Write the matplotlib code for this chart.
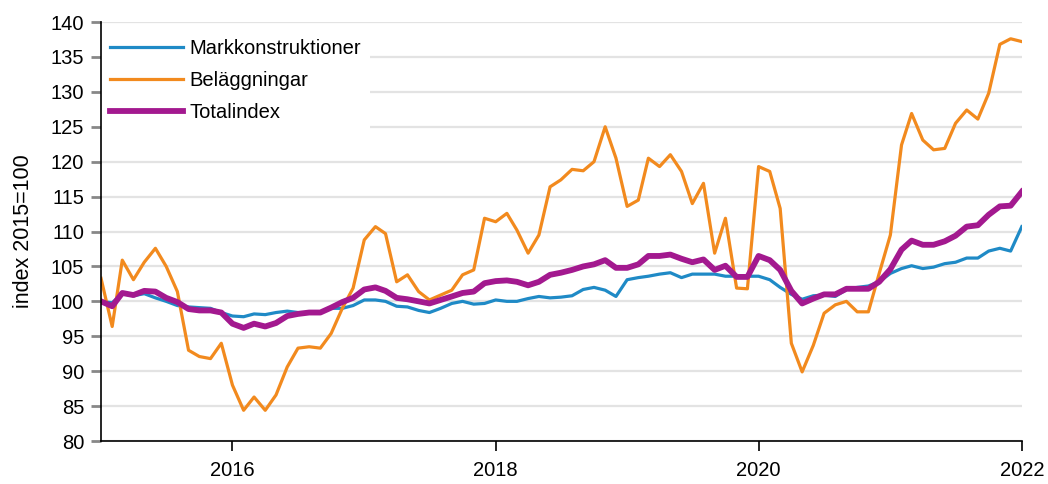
import matplotlib
matplotlib.use("Agg")
import matplotlib.pyplot as plt
import matplotlib.dates as mdates
import pandas as pd

plt.rcParams["font.family"] = ["Liberation Sans", "DejaVu Sans"]

months = pd.date_range("2015-01-01", "2022-01-01", freq="MS")

markkonstruktioner = [
    100.0, 99.8, 101.1, 100.8, 101.1, 100.5, 100.0, 99.4, 99.2, 99.1, 99.0, 98.4,
    97.9, 97.8, 98.2, 98.1, 98.4, 98.6, 98.4, 98.4, 98.4, 99.0, 99.0, 99.4,
    100.2, 100.2, 100.0, 99.3, 99.2, 98.7, 98.4, 99.0, 99.7, 100.0, 99.6, 99.7,
    100.2, 100.0, 100.0, 100.4, 100.7, 100.5, 100.6, 100.8, 101.7, 102.0, 101.6, 100.7,
    103.1, 103.4, 103.6, 103.9, 104.1, 103.4, 103.9, 103.9, 103.9, 103.6, 103.6, 103.6,
    103.6, 103.1, 102.0, 101.0, 100.3, 100.8, 100.9, 100.7, 101.7, 102.0, 102.2, 102.8,
    104.0, 104.7, 105.1, 104.7, 104.9, 105.4, 105.6, 106.2, 106.2, 107.2, 107.6, 107.2,
    110.7,
]

belaggningar = [
    103.3, 96.4, 105.9, 103.1, 105.6, 107.6, 105.0, 101.4, 93.0, 92.1, 91.8, 94.0,
    88.0, 84.4, 86.3, 84.4, 86.6, 90.6, 93.3, 93.5, 93.3, 95.4, 99.0, 101.9,
    108.8, 110.7, 109.7, 102.8, 103.8, 101.4, 100.2, 100.9, 101.6, 103.8, 104.5, 111.9,
    111.4, 112.6, 110.2, 106.9, 109.5, 116.4, 117.4, 118.9, 118.7, 120.0, 125.0, 120.5,
    113.6, 114.5, 120.5, 119.3, 121.0, 118.6, 114.0, 116.9, 106.9, 111.9, 101.9, 101.8,
    119.3, 118.6, 113.3, 94.0, 89.9, 93.7, 98.3, 99.5, 100.0, 98.5, 98.5, 104.0,
    109.5, 122.4, 126.9, 123.1, 121.7, 121.9, 125.5, 127.4, 126.1, 129.8, 136.8, 137.6,
    137.2,
]

totalindex = [
    100.0, 99.3, 101.2, 100.9, 101.5, 101.4, 100.5, 99.9, 98.9, 98.7, 98.7, 98.4,
    96.8, 96.2, 96.8, 96.4, 96.9, 97.9, 98.2, 98.4, 98.4, 99.1, 99.9, 100.5,
    101.7, 102.0, 101.5, 100.5, 100.3, 100.0, 99.7, 100.2, 100.7, 101.2, 101.4, 102.6,
    102.9, 103.0, 102.8, 102.3, 102.8, 103.8, 104.1, 104.5, 105.0, 105.3, 105.9, 104.8,
    104.8, 105.3, 106.5, 106.5, 106.7, 106.1, 105.6, 106.0, 104.5, 105.1, 103.5, 103.5,
    106.5, 105.9, 104.5, 101.5, 99.7, 100.4, 101.0, 101.0, 101.8, 101.8, 101.8, 102.8,
    104.6, 107.4, 108.7, 108.1, 108.1, 108.6, 109.4, 110.7, 110.9, 112.4, 113.6, 113.7,
    115.7,
]

fig = plt.figure(figsize=(10.48, 4.84), dpi=100)
ax = fig.add_axes([0.0964, 0.0888, 0.8786, 0.8657])

ax.plot(months, markkonstruktioner, color="#1f8ac6", lw=2.3, label="Markkonstruktioner")
ax.plot(months, belaggningar, color="#f28a1e", lw=2.3, label="Beläggningar")
ax.plot(months, totalindex, color="#a3198f", lw=4.2, label="Totalindex")

ax.set_xlim(months[0], months[-1])
ax.set_ylim(80, 140)
ax.set_yticks(range(80, 141, 5))
ax.xaxis.set_major_locator(mdates.YearLocator(2))
ax.xaxis.set_major_formatter(mdates.DateFormatter("%Y"))

ax.grid(axis="y", color="#e3e3e3", lw=1.6)
ax.set_axisbelow(True)
for s in ["top", "right"]:
    ax.spines[s].set_visible(False)
ax.spines["left"].set_linewidth(1.2)
ax.spines["bottom"].set_linewidth(1.2)
ax.tick_params(axis="y", length=7, width=2, color="#888888", labelsize=14.5, pad=5)
ax.tick_params(axis="x", length=7.5, width=1.2, labelsize=14.5, pad=7)
ax.set_ylabel("index 2015=100", fontsize=15.5, labelpad=12)

leg = ax.legend(loc="upper left", bbox_to_anchor=(0.0, 0.982), frameon=True,
                fontsize=14.5, handlelength=3.6, borderaxespad=0.0, borderpad=0.45,
                labelspacing=0.65, handletextpad=0.35, fancybox=False)
leg.get_frame().set_edgecolor("none")
leg.get_frame().set_facecolor("white")
leg.get_frame().set_alpha(1.0)
leg.set_zorder(2.4)

fig.savefig("out.png", dpi=100)
